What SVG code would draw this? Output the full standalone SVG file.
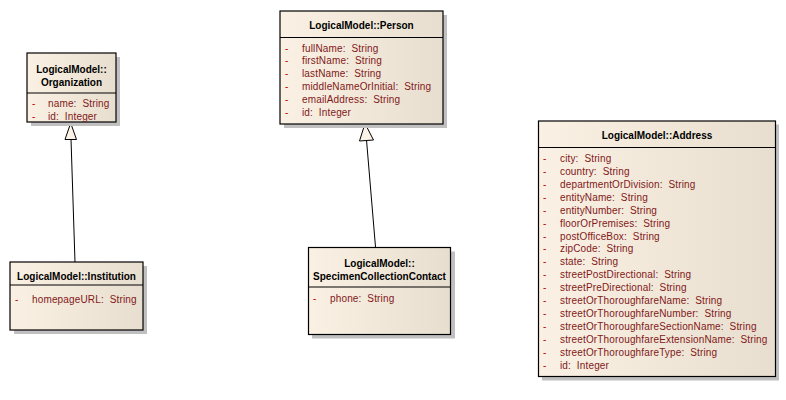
<svg xmlns="http://www.w3.org/2000/svg" width="786" height="400" viewBox="0 0 786 400">
<defs>
<linearGradient id="fill" x1="0" y1="0" x2="1" y2="0">
<stop offset="0" stop-color="#FAF1E4"/>
<stop offset="1" stop-color="#E8DECF"/>
</linearGradient>
</defs>
<style>
.sh{fill:#C0C0C0}
.bx{fill:url(#fill);stroke:#000;stroke-width:1.2}
.dv{stroke:#000;stroke-width:1.2}
.t{font-family:"Liberation Sans",Arial,sans-serif;font-size:10px;font-weight:bold;fill:#000;text-anchor:middle}
.a{font-family:"Liberation Sans",Arial,sans-serif;font-size:10px;fill:#821818;white-space:pre;letter-spacing:0.15px}
.d{font-family:"Liberation Sans",Arial,sans-serif;font-size:10px;fill:#C00000}
.ln{stroke:#000;stroke-width:1;fill:none}
.tri{fill:#FBF3E8;stroke:#000;stroke-width:1}
</style>
<rect width="786" height="400" fill="#fff"/>

<g id="connectors">
<line class="ln" x1="75" y1="262" x2="71" y2="139"/>
<polygon class="tri" points="70.7,123 65,139.5 76.5,139.5"/>
<line class="ln" x1="375.5" y1="247" x2="366.5" y2="140"/>
<polygon class="tri" points="365,123.5 359.5,141 373.5,140"/>
</g>

<g id="organization">
<rect class="sh" x="31" y="57" width="89" height="69"/>
<rect class="bx" x="27" y="53" width="89" height="69"/>
<line class="dv" x1="27" y1="93" x2="116" y2="93"/>
<text class="t" x="71.5" y="73">LogicalModel::</text>
<text class="t" x="71.5" y="85.5">Organization</text>
<text class="d" x="32" y="107">-</text><text class="a" x="48" y="107">name:  String</text>
<text class="d" x="32" y="120">-</text><text class="a" x="48" y="120">id:  Integer</text>
</g>

<g id="person">
<rect class="sh" x="284" y="15" width="163" height="113"/>
<rect class="bx" x="280" y="11" width="163" height="113"/>
<line class="dv" x1="280" y1="37.5" x2="443" y2="37.5"/>
<text class="t" x="361.5" y="29">LogicalModel::Person</text>
<text class="d" x="285" y="51.5">-</text><text class="a" x="302" y="51.5">fullName:  String</text>
<text class="d" x="285" y="64.4">-</text><text class="a" x="302" y="64.4">firstName:  String</text>
<text class="d" x="285" y="77.3">-</text><text class="a" x="302" y="77.3">lastName:  String</text>
<text class="d" x="285" y="90.2">-</text><text class="a" x="302" y="90.2">middleNameOrInitial:  String</text>
<text class="d" x="285" y="103.1">-</text><text class="a" x="302" y="103.1">emailAddress:  String</text>
<text class="d" x="285" y="116">-</text><text class="a" x="302" y="116">id:  Integer</text>
</g>

<g id="institution">
<rect class="sh" x="14" y="266" width="133" height="68"/>
<rect class="bx" x="10" y="262" width="133" height="68"/>
<line class="dv" x1="10" y1="285" x2="143" y2="285"/>
<text class="t" x="76.5" y="280">LogicalModel::Institution</text>
<text class="d" x="15" y="303">-</text><text class="a" x="32" y="303">homepageURL:  String</text>
</g>

<g id="specimenCollectionContact">
<rect class="sh" x="312" y="251.5" width="143" height="87"/>
<rect class="bx" x="308.5" y="247.5" width="142" height="87"/>
<line class="dv" x1="308.5" y1="287" x2="450.5" y2="287"/>
<text class="t" x="379.5" y="267">LogicalModel::</text>
<text class="t" x="379.5" y="280">SpecimenCollectionContact</text>
<text class="d" x="313" y="302">-</text><text class="a" x="330" y="302">phone:  String</text>
</g>

<g id="address">
<rect class="sh" x="542" y="124.5" width="237" height="256"/>
<rect class="bx" x="538.5" y="121" width="237" height="255.5"/>
<line class="dv" x1="538.5" y1="147.5" x2="775.5" y2="147.5"/>
<text class="t" x="657" y="139">LogicalModel::Address</text>
<text class="d" x="543" y="161.8">-</text><text class="a" x="560" y="161.8">city:  String</text>
<text class="d" x="543" y="174.75">-</text><text class="a" x="560" y="174.75">country:  String</text>
<text class="d" x="543" y="187.7">-</text><text class="a" x="560" y="187.7">departmentOrDivision:  String</text>
<text class="d" x="543" y="200.65">-</text><text class="a" x="560" y="200.65">entityName:  String</text>
<text class="d" x="543" y="213.6">-</text><text class="a" x="560" y="213.6">entityNumber:  String</text>
<text class="d" x="543" y="226.55">-</text><text class="a" x="560" y="226.55">floorOrPremises:  String</text>
<text class="d" x="543" y="239.5">-</text><text class="a" x="560" y="239.5">postOfficeBox:  String</text>
<text class="d" x="543" y="252.45">-</text><text class="a" x="560" y="252.45">zipCode:  String</text>
<text class="d" x="543" y="265.4">-</text><text class="a" x="560" y="265.4">state:  String</text>
<text class="d" x="543" y="278.35">-</text><text class="a" x="560" y="278.35">streetPostDirectional:  String</text>
<text class="d" x="543" y="291.3">-</text><text class="a" x="560" y="291.3">streetPreDirectional:  String</text>
<text class="d" x="543" y="304.25">-</text><text class="a" x="560" y="304.25">streetOrThoroughfareName:  String</text>
<text class="d" x="543" y="317.2">-</text><text class="a" x="560" y="317.2">streetOrThoroughfareNumber:  String</text>
<text class="d" x="543" y="330.15">-</text><text class="a" x="560" y="330.15">streetOrThoroughfareSectionName:  String</text>
<text class="d" x="543" y="343.1">-</text><text class="a" x="560" y="343.1">streetOrThoroughfareExtensionName:  String</text>
<text class="d" x="543" y="356.05">-</text><text class="a" x="560" y="356.05">streetOrThoroughfareType:  String</text>
<text class="d" x="543" y="369">-</text><text class="a" x="560" y="369">id:  Integer</text>
</g>
</svg>
